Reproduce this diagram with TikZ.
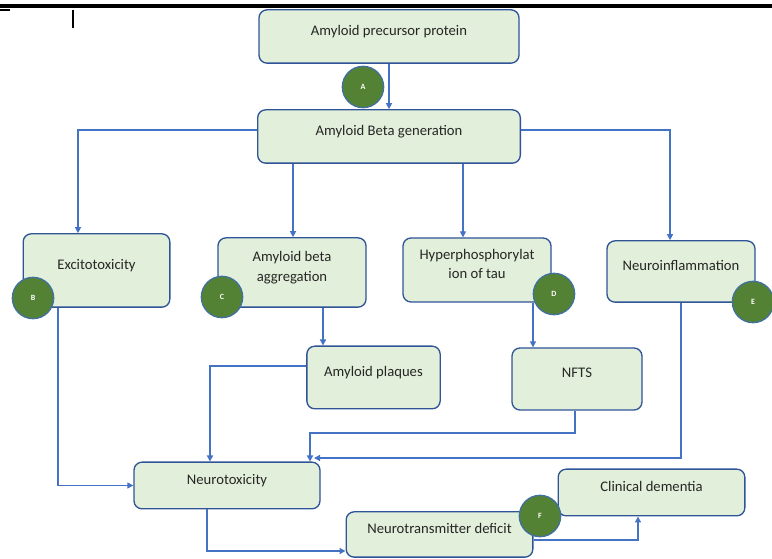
\documentclass[tikz,border=0pt]{standalone}
\usepackage{fontspec}
\setmainfont{Carlito}
\usepackage{xcolor}
\usetikzlibrary{shapes, positioning, arrows.meta}
\definecolor{boxfill}{HTML}{E2EFDA}
\definecolor{boxline}{HTML}{2F5597}
\definecolor{flowblue}{HTML}{4472C4}
\definecolor{dotgreen}{HTML}{548235}
\definecolor{dotline}{HTML}{41719C}

\begin{document}
\begin{tikzpicture}[x=0.75pt, y=-0.75pt,
    box/.style={draw=boxline, fill=boxfill, rounded corners=6pt, line width=1pt, align=center,
        font=\fontsize{11}{14.5}\selectfont, text=black!85, text depth=9pt, inner sep=2pt},
    dot/.style={circle, draw=dotline, line width=1pt, fill=dotgreen, minimum size=31pt, inner sep=0pt,
        text=white, font=\fontsize{6}{7}\selectfont\bfseries},
    flow/.style={draw=flowblue, line width=1pt, -{Triangle[length=4.5pt, width=4.5pt]}}]
        \useasboundingbox (0,0) rectangle (772,559);
        \fill[black] (0,4) rectangle (772,8);
        \draw[black, line width=0.8pt] (0,10) -- (10,10) (73,10) -- (73,28);

        \node[box, minimum width=195pt, minimum height=40pt] (app) at (389,36.5) {Amyloid precursor protein};
        \node[box, minimum width=197pt, minimum height=40pt] (abg) at (389,136.5) {Amyloid Beta generation};
        \node[box, minimum width=110pt, minimum height=55pt] (exc) at (96.5,270.5) {Excitotoxicity};
        \node[box, minimum width=111pt, minimum height=52pt] (agg) at (292,272.5) {Amyloid beta\\aggregation};
        \node[box, minimum width=111pt, minimum height=48pt] (hyp) at (477,270) {Hyperphosphorylat\\ion of tau};
        \node[box, minimum width=111pt, minimum height=46pt] (inf) at (681,271.5) {Neuroinflammation};
        \node[box, minimum width=100pt, minimum height=47pt] (plq) at (373.5,377.5) {Amyloid plaques};
        \node[box, minimum width=97.5pt, minimum height=46.5pt] (nft) at (577,379) {NFTS};
        \node[box, minimum width=139.5pt, minimum height=35pt] (ntx) at (227,485.5) {Neurotoxicity};
        \node[box, minimum width=140pt, minimum height=34pt] (ntd) at (439.5,534.5) {Neurotransmitter deficit};
        \node[box, minimum width=140pt, minimum height=35pt] (cld) at (651.5,492.5) {Clinical dementia};

        \draw[flow] (app) -- (abg);
        \draw[flow] (abg.west |- 0,130) -| (exc.north -| 78,0);
        \draw[flow] (abg.south -| 293,0) -- (agg.north -| 293,0);
        \draw[flow] (abg.south -| 463,0) -- (hyp.north -| 463,0);
        \draw[flow] (abg.east |- 0,130) -| (inf.north -| 670,0);
        \draw[flow] (agg.south -| 323,0) -- (plq.north -| 323,0);
        \draw[flow] (hyp.south -| 533,0) -- (nft.north -| 533,0);
        \draw[flow] (plq.west |- 0,366) -| (ntx.north -| 210,0);
        \draw[flow] (nft.south -| 575,0) |- (310,433) -- (ntx.north -| 310,0);
        \draw[flow] (inf.south -| 681,0) |- (314,458);
        \draw[flow] (exc.south -| 58,0) |- (ntx.west);
        \draw[flow] (ntx.south -| 207,0) |- (ntd.west |- 0,551);
        \draw[flow] (ntd.east |- 0,540) -| (cld.south -| 638,0);

        \node[dot] (a) at (363,87) {A};
        \node[dot] (b) at (33,298) {B};
        \node[dot] (c) at (222,297) {C};
        \node[dot] (d) at (554,294) {D};
        \node[dot] (e) at (753,302) {E};
        \node[dot] (f) at (540,516) {F};
    \end{tikzpicture}
\end{document}
